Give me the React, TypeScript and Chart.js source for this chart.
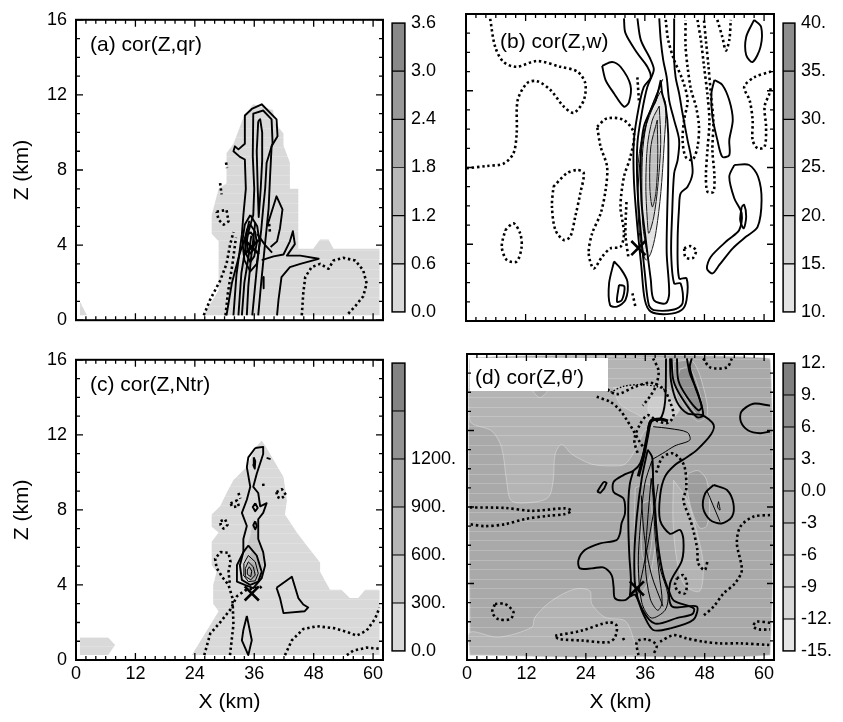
import { useEffect, useRef } from "react"
import { Chart, registerables } from "chart.js"

Chart.register(...registerables)
Chart.defaults.font.family = "'Liberation Sans', Arial, Helvetica, sans-serif"
Chart.defaults.color = "#000"

type Pt = [number, number]

// ---- axis ticks (km) ----
const xMajor = [0, 12, 24, 36, 48, 60]
const xMinor = [2, 4, 6, 8, 10, 14, 16, 18, 20, 22, 26, 28, 30, 32, 34, 38, 40, 42, 44, 46, 50, 52, 54, 56, 58]
const yMajor = [0, 4, 8, 12, 16]
const yMinor = [1, 2, 3, 5, 6, 7, 9, 10, 11, 13, 14, 15]

// ---- colour bar labels ----
const cbTicksA = ["0.0", "0.6", "1.2", "1.8", "2.4", "3.0", "3.6"]
const cbTicksB = ["10.", "15.", "20.", "25.", "30.", "35.", "40."]
const cbTicksC = ["0.0", "300.", "600.", "900.", "1200.", ""]
const cbTicksD = ["-15.", "-12.", "-9", "-6", "-3", "0.0", "3.", "6.", "9.", "12."]

const paletteA = ["#d9d9d9", "#c9c9c9", "#b9b9b9", "#a9a9a9", "#999999", "#898989"]
const paletteB = ["#e3e3e3", "#d1d1d1", "#c0c0c0", "#afafaf", "#9e9e9e", "#8d8d8d"]
const paletteC = ["#d9d9d9", "#c7c7c7", "#b5b5b5", "#a3a3a3", "#939393", "#838383"]
const paletteD = ["#e6e6e6", "#d9d9d9", "#cccccc", "#bfbfbf", "#b4b4b4", "#a9a9a9", "#9c9c9c", "#8f8f8f", "#7f7f7f"]

// ---- (a) cor(Z,qr) ----
const aBand0: Pt[] = [[25.7, 0.26], [61.3, 0.26], [61.3, 3.8], [52.0, 3.8], [51.0, 4.3], [49.3, 4.3], [47.9, 3.8], [44.9, 3.8], [44.9, 7.0], [43.2, 7.0], [43.2, 8.4], [41.9, 9.3], [41.9, 9.95], [40.2, 10.5], [39.8, 11.2], [35.8, 11.5], [33.8, 10.8], [31.8, 9.4], [30.4, 8.9], [30.4, 7.3], [28.8, 7.0], [27.4, 5.6], [27.4, 4.6], [28.8, 4.2], [28.8, 1.6]]
const aBand0Corner: Pt[] = [[0.8, 0.26], [2.2, 0.26], [0.8, 1.0]]
const aBand1: Pt[] = [[33.6, 3.3], [35.2, 3.9], [36.0, 3.2], [35.0, 2.5], [33.8, 2.7]]
const aOuter: Pt[] = [[31.8, 0.26], [32.4, 2.4], [33.5, 4.57], [33.8, 5.6], [34.3, 7.0], [34.1, 8.56], [33.1, 8.7], [31.8, 9.0], [32.1, 9.26], [32.8, 9.1], [34.1, 9.4], [34.1, 10.9], [35.5, 11.25], [37.5, 11.5], [40.5, 10.7], [40.7, 9.8], [39.5, 9.26], [39.2, 7.7], [38.9, 5.96], [38.5, 4.9], [38.0, 3.6], [37.4, 2.0], [36.8, 0.26]]
const aInner: Pt[] = [[32.8, 0.26], [33.4, 2.5], [34.6, 4.5], [35.8, 5.6], [36.0, 7.0], [35.7, 8.74], [35.8, 11.0], [37.8, 11.17], [39.5, 10.7], [39.7, 9.43], [38.5, 8.39], [38.2, 7.0], [37.8, 5.96], [37.4, 4.8], [36.6, 3.0], [35.6, 0.26]]
const aCore: Pt[] = [[36.8, 10.6], [36.5, 9.0], [36.7, 7.0], [36.9, 5.5], [37.3, 7.0], [37.6, 8.5], [37.6, 10.0], [37.2, 10.7], [36.8, 10.6]]
const aRing1: Pt[] = [[35.2, 5.6], [36.6, 5.0], [37.1, 4.1], [36.5, 3.0], [35.2, 2.6], [34.0, 3.2], [33.6, 4.2], [34.1, 5.1], [35.2, 5.6]]
const aRing2: Pt[] = [[35.2, 5.1], [36.2, 4.7], [36.5, 4.1], [36.0, 3.4], [35.2, 3.1], [34.4, 3.5], [34.1, 4.2], [34.5, 4.8], [35.2, 5.1]]
const aRing3: Pt[] = [[35.2, 4.7], [35.8, 4.5], [36.0, 4.1], [35.7, 3.7], [35.2, 3.55], [34.7, 3.8], [34.5, 4.2], [34.7, 4.55], [35.2, 4.7]]
const aStrand1: Pt[] = [[30.4, 0.26], [31.5, 2.0], [33.0, 3.5], [34.4, 4.6], [35.0, 5.3]]
const aStrand2: Pt[] = [[33.5, 0.26], [34.0, 2.0], [34.8, 3.3], [35.4, 4.5]]
const aStrand3: Pt[] = [[34.5, 0.26], [34.8, 1.8], [35.3, 3.2], [35.8, 4.3], [36.2, 5.2]]
const aStrand4: Pt[] = [[36.6, 4.6], [38.2, 4.0], [39.6, 3.6]]
const aTick: Pt[] = [[37.8, 2.3], [37.9, 1.7]]
const aLobe: Pt[] = [[38.6, 5.0], [40.5, 6.6], [41.7, 5.9], [41.2, 4.9], [40.6, 4.2], [39.3, 3.9]]
const aArm: Pt[] = [[37.5, 3.2], [39.9, 3.4], [41.9, 3.5], [43.2, 4.2], [43.8, 4.74], [44.2, 4.05], [42.6, 3.44], [45.3, 3.44], [49.0, 3.27], [45.3, 3.0], [43.2, 2.83], [41.5, 2.3], [40.9, 1.1], [40.6, 0.26]]
const aDot1: Pt[] = [[25.8, 0.26], [27.1, 1.1], [29.1, 2.1], [30.4, 3.0], [31.1, 4.0], [31.8, 4.7]]
const aDot2: Pt[] = [[30.2, 0.26], [30.7, 1.5], [31.6, 3.0], [32.3, 4.4]]
const aDot3: Pt[] = [[28.4, 5.78], [30.4, 5.87], [30.8, 5.26], [29.8, 5.09], [28.8, 5.35], [28.4, 5.78]]
const aDot4: Pt[] = [[29.1, 7.3], [29.4, 6.7]]
const aDot5: Pt[] = [[30.3, 8.4], [30.5, 8.1]]
const aDot6: Pt[] = [[45.6, 0.26], [45.9, 1.44], [46.3, 2.3], [47.6, 2.83], [49.3, 3.0], [51.0, 2.74], [52.0, 3.18], [54.0, 3.32], [56.4, 3.18], [58.0, 2.66], [58.7, 1.96], [58.0, 1.27], [56.4, 0.75], [54.7, 0.26]]
const aDot7: Pt[] = [[38.9, 5.4], [39.2, 4.6]]
const aCross: Pt = [35.5, 3.9]

// ---- (b) cor(Z,w) ----
const bBand0: Pt[] = [[39.2, 11.98], [40.2, 11.3], [39.9, 9.26], [39.2, 6.64], [38.2, 4.57], [37.2, 3.53], [36.2, 3.18], [35.5, 3.87], [34.8, 5.78], [34.5, 7.52], [35.2, 9.26], [36.8, 10.6], [38.5, 11.63]]
const bBand1: Pt[] = [[38.9, 11.2], [39.2, 9.26], [38.6, 7.0], [37.8, 5.43], [36.8, 4.57], [36.5, 5.26], [36.2, 7.0], [36.5, 9.08], [37.5, 10.47]]
const bBand2: Pt[] = [[38.5, 10.47], [38.6, 8.39], [38.2, 6.64], [37.5, 5.95], [37.0, 7.0], [37.2, 9.08]]
const bPlume1: Pt[] = [[31.8, 15.77], [32.1, 15.0], [34.5, 13.95], [36.5, 13.25], [37.2, 12.7], [35.8, 12.2], [34.8, 11.17], [33.8, 9.43], [33.8, 7.35], [34.5, 4.9], [35.3, 2.83], [36.0, 1.1], [37.2, 0.49], [40.5, 0.36], [43.4, 0.57], [44.4, 1.1], [44.4, 2.22], [42.9, 2.22], [42.6, 4.22], [42.9, 5.96], [43.2, 6.65], [44.6, 7.0], [45.6, 7.7], [45.3, 8.56], [44.6, 9.43], [43.6, 10.8], [42.9, 11.86], [42.2, 12.7], [41.9, 13.6], [41.9, 15.0], [41.9, 15.77]]
const bPlume2: Pt[] = [[34.5, 15.77], [35.2, 14.64], [37.2, 13.6], [37.8, 13.08], [36.5, 12.2], [35.5, 11.0], [34.5, 9.26], [34.5, 7.0], [35.2, 4.57], [36.0, 2.48], [36.8, 0.83], [37.8, 0.57], [41.9, 0.6], [43.6, 0.92], [43.2, 1.96], [41.9, 1.96], [41.3, 3.53], [41.5, 5.6], [41.9, 7.7], [42.6, 8.39], [42.9, 9.43], [41.9, 10.47], [40.9, 11.5], [40.4, 12.7], [39.7, 13.6], [39.2, 14.64], [38.9, 15.77]]
const bPlume3: Pt[] = [[39.2, 12.56], [38.2, 11.5], [37.2, 11.0], [35.8, 10.13], [35.2, 8.74], [35.3, 6.3], [36.2, 4.22], [37.2, 2.14], [37.8, 1.1], [40.2, 0.92], [40.9, 1.44], [40.4, 3.53], [40.5, 5.6], [40.7, 7.7], [40.7, 9.78], [40.2, 11.17], [39.5, 11.86], [39.2, 12.56]]
const bThin1: Pt[] = [[39.4, 12.4], [37.6, 11.3], [36.2, 10.2], [35.1, 8.5], [34.6, 6.5], [34.9, 4.6], [35.8, 3.2]]
const bThin2: Pt[] = [[39.6, 12.6], [38.0, 11.6], [36.6, 10.6], [35.6, 9.0], [35.4, 7.0], [35.6, 5.0], [36.4, 3.6]]
const bLoopNW: Pt[] = [[27.4, 13.3], [29.4, 13.5], [31.1, 13.25], [33.1, 12.3], [32.8, 11.4], [31.8, 11.17], [29.8, 11.86], [28.1, 12.56], [27.4, 13.3]]
const bLoopE: Pt[] = [[50.0, 12.56], [51.6, 12.3], [53.0, 11.5], [53.7, 10.47], [53.0, 9.43], [53.0, 8.65], [51.6, 8.56], [50.6, 9.43], [49.6, 10.65], [49.4, 11.86], [50.0, 12.56]]
const bLoopNE: Pt[] = [[58.0, 15.69], [59.4, 15.34], [59.3, 14.3], [57.7, 13.5], [56.4, 13.86], [56.4, 14.8], [58.0, 15.69]]
const bLoopSE: Pt[] = [[54.0, 8.13], [57.0, 8.13], [58.8, 7.52], [59.5, 6.3], [58.7, 4.9], [56.4, 4.4], [53.7, 3.79], [51.0, 2.92], [49.6, 2.48], [48.5, 2.74], [49.3, 3.35], [52.7, 4.22], [55.0, 4.74], [55.5, 5.6], [54.0, 6.4], [53.0, 7.52], [54.0, 8.13]]
const bLoopSEin: Pt[] = [[55.5, 5.96], [56.0, 6.05], [56.4, 5.44], [55.9, 4.83], [55.2, 5.26], [55.5, 5.96]]
const bLoopSW: Pt[] = [[29.8, 3.1], [31.1, 2.74], [32.5, 2.05], [32.1, 1.1], [30.4, 0.75], [29.0, 0.83], [28.8, 1.96], [29.8, 3.1]]
const bLoopSWin: Pt[] = [[30.8, 1.88], [31.9, 1.79], [31.4, 1.1], [30.4, 1.0], [30.8, 1.88]]
const bDotW: Pt[] = [[0.13, 7.96], [4.2, 8.08], [7.54, 8.2], [9.56, 8.74], [10.2, 9.78], [10.4, 11.5], [12.3, 12.4], [14.3, 12.5], [17.0, 12.04], [19.7, 11.17], [21.7, 10.85], [23.7, 11.5], [24.0, 12.4], [22.4, 13.0], [19.0, 13.25], [14.3, 13.55], [10.2, 13.25], [7.54, 13.5], [5.86, 14.3], [4.85, 15.77]]
const bDotSW: Pt[] = [[7.9, 4.74], [9.56, 5.09], [10.9, 4.57], [11.2, 3.87], [10.2, 3.1], [8.2, 3.18], [7.2, 3.87], [7.9, 4.74]]
const bDotMid: Pt[] = [[17.6, 7.0], [20.3, 7.7], [22.4, 7.87], [23.7, 7.7], [23.0, 6.65], [22.0, 5.44], [21.0, 4.4], [19.7, 4.22], [18.0, 4.74], [17.3, 5.96], [17.6, 7.0]]
const bDotPlumeW: Pt[] = [[26.4, 10.13], [28.4, 10.56], [31.8, 10.47], [33.8, 9.78], [33.1, 8.56], [31.8, 7.52], [31.1, 5.96], [31.8, 4.57], [31.1, 3.87], [29.1, 3.79], [27.4, 3.35], [25.7, 2.74], [24.7, 3.53], [25.4, 4.57], [27.1, 5.6], [28.1, 6.83], [28.4, 8.04], [27.1, 9.08], [26.4, 10.13]]
const bDotStrand: Pt[] = [[32.3, 6.2], [32.1, 4.5], [32.7, 3.3]]
const bDotTop: Pt[] = [[34.5, 12.7], [34.8, 11.5]]
const bDotE1: Pt[] = [[40.2, 15.69], [40.7, 14.64], [41.9, 13.6], [43.6, 12.56], [44.6, 11.5], [43.9, 10.47], [43.6, 9.43], [44.2, 8.56], [45.6, 8.39], [46.6, 9.08], [46.9, 10.13], [46.3, 11.17], [45.3, 12.04], [44.6, 13.25], [44.2, 14.3], [44.2, 15.69]]
const bDotE2: Pt[] = [[46.6, 15.69], [47.3, 14.6], [47.9, 13.3], [48.6, 11.8], [49.0, 10.4], [48.6, 8.9], [48.3, 7.6], [48.6, 6.74], [49.8, 6.74], [50.0, 7.6], [49.6, 8.9], [49.8, 10.4], [49.3, 11.8], [48.8, 13.3], [48.3, 14.6], [47.9, 15.69]]
const bDotNE: Pt[] = [[50.6, 15.69], [51.6, 14.8], [52.3, 14.1], [53.0, 14.64], [53.3, 15.69]]
const bDotFarE: Pt[] = [[61.4, 13.0], [58.0, 12.7], [56.0, 12.2], [57.1, 11.5], [57.7, 10.47], [57.7, 9.43], [58.7, 9.0], [60.1, 9.08], [60.4, 10.13], [60.1, 11.17], [61.1, 11.86], [61.4, 12.2]]
const bDotRing: Pt[] = [[43.9, 3.79], [45.3, 3.9], [46.3, 3.66], [45.6, 3.27], [44.2, 3.32], [43.9, 3.79]]
const bDotTiny: Pt[] = [[33.5, 1.44], [34.1, 0.75]]
const bCross: Pt = [34.7, 3.8]

// ---- (c) cor(Z,Ntr) ----
const cBand0: Pt[] = [[23.4, 0.26], [61.3, 0.26], [61.3, 3.75], [58.4, 3.75], [57.0, 3.3], [55.3, 3.3], [53.6, 3.75], [51.3, 3.75], [49.3, 4.7], [49.3, 5.2], [46.6, 6.1], [44.6, 6.8], [42.2, 7.75], [42.6, 8.5], [41.9, 9.75], [38.5, 11.3], [37.5, 11.7], [36.2, 11.3], [34.5, 10.3], [31.8, 9.6], [30.4, 8.9], [29.1, 8.2], [27.4, 7.75], [27.4, 7.1], [28.8, 6.8], [27.4, 6.3], [27.4, 5.05], [28.4, 4.7], [27.7, 4.0], [27.7, 3.0], [28.8, 2.6]]
const cBand0Left: Pt[] = [[0.8, 1.2], [6.5, 1.2], [7.9, 0.8], [6.5, 0.26], [0.8, 0.26]]
const cBand1: Pt[] = [[35.8, 7.5], [36.8, 6.8], [37.8, 5.4], [37.8, 4.5], [36.8, 4.0], [34.8, 4.0], [33.8, 4.7], [34.1, 5.75], [35.2, 6.6]]
const cBand2: Pt[] = [[35.6, 5.9], [36.6, 5.5], [37.2, 4.8], [36.6, 4.2], [35.2, 4.1], [34.5, 4.6], [34.8, 5.3]]
const cBand3: Pt[] = [[35.5, 5.2], [36.3, 4.9], [36.3, 4.4], [35.3, 4.3], [35.0, 4.7]]
const cTall: Pt[] = [[36.2, 11.3], [37.8, 11.36], [37.8, 10.98], [36.5, 9.93], [35.8, 9.23], [36.8, 8.9], [37.2, 8.19], [38.5, 8.36], [37.8, 7.84], [36.8, 7.5], [36.8, 6.45], [37.8, 5.75], [38.2, 5.05], [37.5, 4.36], [35.8, 3.83], [34.1, 4.0], [32.5, 4.18], [32.5, 5.05], [33.8, 5.75], [33.8, 6.45], [34.5, 7.14], [33.5, 7.84], [34.5, 8.54], [35.2, 9.23], [34.5, 10.28], [34.8, 10.8], [36.2, 11.3]]
const cDiam1: Pt[] = [[36.2, 8.36], [36.7, 8.1], [36.2, 7.93], [35.7, 8.15], [36.2, 8.36]]
const cDiam2: Pt[] = [[36.2, 7.4], [36.5, 7.14], [36.2, 6.97], [35.8, 7.18], [36.2, 7.4]]
const cSpot: Pt[] = [[35.9, 10.8], [36.2, 10.6], [36.1, 10.2], [35.8, 10.4], [35.9, 10.8]]
const cRing1: Pt[] = [[34.8, 6.1], [36.5, 5.57], [37.5, 4.7], [36.8, 4.18], [35.2, 4.0], [33.5, 4.27], [33.1, 5.05], [33.8, 5.75], [34.8, 6.1]]
const cRing2: Pt[] = [[34.8, 5.57], [36.2, 5.23], [36.8, 4.62], [36.2, 4.22], [34.8, 4.18], [33.8, 4.53], [33.9, 5.14], [34.8, 5.57]]
const cRing3: Pt[] = [[34.8, 5.23], [35.8, 4.97], [36.2, 4.53], [35.3, 4.27], [34.3, 4.44], [34.2, 4.88], [34.8, 5.23]]
const cRing4: Pt[] = [[35.0, 4.97], [35.5, 4.74], [35.3, 4.44], [34.6, 4.57], [34.6, 4.8], [35.0, 4.97]]
const cTick: Pt[] = [[38.5, 10.77], [39.3, 10.71]]
const cLoopE: Pt[] = [[40.5, 3.85], [43.6, 4.44], [44.9, 3.3], [45.9, 2.96], [46.9, 2.8], [46.2, 2.6], [41.9, 2.5], [41.2, 3.3], [40.5, 3.85]]
const cNeedle: Pt[] = [[34.5, 2.35], [35.5, 1.05], [34.8, 0.26], [33.5, 1.05], [33.8, 1.6], [34.5, 2.35]]
const cDot1: Pt[] = [[25.9, 0.26], [27.1, 1.4], [29.1, 2.0], [31.2, 2.7], [32.5, 3.4], [34.1, 3.7], [37.2, 3.9], [37.8, 3.75]]
const cDot2: Pt[] = [[31.1, 0.26], [31.8, 1.9], [31.6, 3.3], [30.8, 4.0], [29.6, 4.4], [28.4, 4.9], [28.1, 5.4], [29.2, 5.75], [30.8, 5.71], [31.2, 5.23], [30.8, 4.7], [31.1, 4.0]]
const cDotR1: Pt[] = [[29.2, 7.4], [30.1, 7.5], [30.6, 7.2], [29.8, 7.0], [29.2, 7.2], [29.2, 7.4]]
const cDotR2: Pt[] = [[31.2, 8.35], [32.5, 8.5], [32.9, 8.2], [31.6, 8.15], [31.2, 8.35]]
const cDotR3: Pt[] = [[32.8, 8.9], [33.2, 8.6]]
const cDotR4: Pt[] = [[37.8, 9.4], [37.9, 9.2]]
const cDotR5: Pt[] = [[40.5, 8.95], [41.6, 9.1], [42.4, 8.8], [41.4, 8.6], [40.6, 8.7], [40.5, 8.95]]
const cDot3: Pt[] = [[42.2, 0.26], [43.6, 1.05], [45.9, 1.65], [48.6, 1.8], [52.0, 1.7], [54.7, 1.5], [56.7, 1.3], [58.7, 1.57], [60.4, 2.2], [61.3, 2.8]]
const cDot4: Pt[] = [[54.7, 0.26], [56.0, 0.5], [58.7, 0.66], [61.3, 0.6]]
const cCross: Pt = [35.5, 3.55]

// ---- (d) cor(Z,theta') ----
const dBase: Pt[] = [[0.6, 0.26], [61.2, 0.26], [61.2, 15.77], [0.6, 15.77]]
const dLightTop: Pt[] = [[0.6, 15.77], [0.6, 12.5], [5.0, 11.98], [7.0, 11.11], [8.0, 9.37], [9.0, 8.32], [13.1, 8.24], [16.4, 8.5], [17.4, 9.37], [17.8, 10.76], [19.1, 11.28], [21.2, 10.76], [25.2, 10.24], [29.2, 10.15], [31.9, 10.24], [34.0, 11.0], [36.0, 12.0], [39.0, 12.3], [41.5, 12.6], [42.5, 13.5], [41.3, 15.0], [40.8, 15.77]]
const dNotch: Pt[] = [[13.2, 14.07], [16.2, 14.07], [14.7, 13.72]]
const dLighterTop: Pt[] = [[29.6, 14.25], [33.6, 14.3], [38.3, 14.4], [41.7, 13.9], [43.0, 13.1], [40.3, 12.5], [36.97, 12.5], [34.3, 12.86], [30.9, 13.38]]
const dLightestTop: Pt[] = [[36.97, 13.72], [40.3, 13.72], [42.7, 13.2], [41.7, 12.68], [38.3, 12.6], [36.6, 13.0]]
const dLightLow: Pt[] = [[0.6, 0.26], [0.6, 1.45], [6.3, 1.19], [13.1, 1.71], [13.7, 2.23], [17.1, 3.1], [21.8, 3.71], [24.8, 3.62], [25.2, 2.93], [27.9, 2.23], [31.9, 2.05], [33.5, 1.2], [34.0, 0.26]]
const dLightEast: Pt[] = [[41.7, 9.4], [44.4, 8.4], [46.5, 6.6], [47.7, 5.0], [47.0, 3.6], [44.0, 3.9], [42.4, 5.2], [41.6, 7.3]]
const dDarkNE: Pt[] = [[41.8, 15.6], [45.6, 15.6], [48.0, 14.0], [48.5, 12.8], [46.5, 12.5], [43.5, 13.5], [41.7, 14.6]]
const dDarkerNE: Pt[] = [[43.0, 15.2], [44.8, 15.3], [46.4, 14.5], [47.4, 13.3], [46.8, 12.8], [45.4, 13.2], [43.6, 14.0], [42.6, 14.7]]
const dDarkEast: Pt[] = [[44.6, 9.75], [46.7, 9.9], [48.4, 9.4], [49.0, 8.0], [48.4, 7.0], [47.0, 6.9], [45.4, 7.8], [44.5, 8.9]]
const dDarkPlume: Pt[] = [[34.0, 9.0], [36.5, 9.2], [38.5, 8.5], [38.0, 6.0], [36.7, 4.2], [35.0, 3.5], [34.2, 5.0], [33.8, 7.0]]
const dDarkerPlume: Pt[] = [[35.5, 8.2], [37.0, 8.3], [37.4, 6.5], [36.4, 5.0], [35.4, 5.5], [35.2, 7.0]]
const dOuter: Pt[] = [[41.0, 15.77], [41.2, 14.6], [42.4, 13.5], [44.5, 12.9], [47.5, 12.8], [49.8, 12.3], [49.3, 11.8], [46.5, 11.0], [44.4, 10.6], [42.0, 10.2], [40.0, 9.6], [39.0, 8.6], [39.0, 7.3], [41.0, 6.6], [43.0, 6.8], [43.7, 6.3], [43.4, 5.2], [41.0, 4.0], [41.4, 2.8], [46.4, 2.8], [45.7, 2.1], [41.0, 1.65], [37.6, 1.57], [35.6, 2.4], [34.0, 3.4], [32.9, 3.31], [31.9, 3.13], [29.9, 3.22], [29.6, 3.83], [29.2, 4.44], [27.5, 4.84], [25.2, 4.79], [22.8, 4.79], [22.5, 5.22], [23.8, 5.75], [26.9, 6.1], [30.2, 6.27], [30.9, 6.62], [31.2, 7.14], [31.9, 7.66], [31.6, 8.45], [29.6, 8.79], [29.6, 9.31], [31.6, 9.67], [33.6, 9.9], [35.0, 10.3], [36.3, 11.5], [37.0, 12.5], [39.0, 12.6], [40.0, 13.5], [40.2, 15.77]]
const dThickTop: Pt[] = [[34.6, 9.6], [35.6, 10.6], [36.5, 11.8], [37.2, 12.5], [39.0, 12.6], [40.6, 12.5]]
const dLobeInner: Pt[] = [[32.9, 3.31], [33.1, 4.18], [32.8, 5.4], [32.6, 6.79], [32.6, 8.36], [32.9, 9.23], [33.6, 9.9]]
const dStrand2: Pt[] = [[36.5, 11.0], [35.3, 9.5], [34.3, 7.5], [33.8, 5.5], [34.0, 3.8], [35.5, 2.6], [38.0, 1.9], [42.5, 2.2], [45.5, 2.4], [45.8, 2.7], [41.8, 3.1], [40.8, 3.6], [39.6, 4.5], [38.6, 6.0], [38.0, 7.8], [37.6, 9.2], [37.4, 10.6], [36.5, 11.0]]
const dStrand3: Pt[] = [[37.3, 10.4], [35.9, 9.2], [35.0, 7.0], [34.6, 5.0], [35.3, 3.0], [37.2, 2.2], [40.0, 2.6], [40.6, 3.4], [39.0, 4.8], [38.2, 6.6], [37.8, 8.6], [37.3, 10.4]]
const dStrand4: Pt[] = [[37.2, 9.5], [36.4, 7.0], [36.0, 5.0], [37.0, 3.2], [38.5, 2.6], [39.4, 3.0], [38.8, 4.5], [38.0, 6.5], [37.6, 8.5], [37.2, 9.5]]
const dCross1: Pt[] = [[38.6, 9.2], [37.2, 7.0], [35.6, 4.8], [34.4, 3.4]]
const dCross2: Pt[] = [[35.2, 8.6], [35.8, 6.5], [37.2, 4.5], [39.6, 2.8]]
const dTopLoop1: Pt[] = [[41.3, 15.77], [41.7, 14.6], [43.4, 13.7], [46.4, 12.7], [47.7, 12.8], [46.7, 13.9], [45.0, 15.0], [44.4, 15.77]]
const dTopLoop2: Pt[] = [[42.4, 15.77], [42.7, 14.6], [44.4, 13.76], [46.7, 13.06], [47.4, 13.24], [46.1, 14.28], [45.0, 15.32], [45.4, 15.77]]
const dTongue: Pt[] = [[37.6, 12.2], [41.0, 12.1], [44.5, 11.9], [45.0, 11.5], [42.0, 11.2], [39.5, 10.8], [37.5, 10.5]]
const dDiamond: Pt[] = [[26.3, 8.8], [27.6, 9.3], [28.2, 9.25], [27.0, 8.75], [26.3, 8.8]]
const dCircle: Pt[] = [[49.8, 9.15], [52.5, 8.89], [53.8, 8.19], [53.5, 7.49], [51.4, 7.14], [49.1, 7.32], [47.7, 7.93], [48.1, 8.71], [49.8, 9.15]]
const dCircleLine: Pt[] = [[48.4, 8.89], [51.1, 7.23]]
const dCircleTiny: Pt[] = [[50.8, 8.28], [51.1, 7.84], [50.6, 8.0], [50.8, 8.28]]
const dEdgeC: Pt[] = [[61.2, 13.3], [57.8, 13.4], [55.4, 12.98], [55.3, 12.46], [56.8, 12.0], [59.2, 11.86], [61.2, 11.95]]
const dDotW: Pt[] = [[0.6, 7.98], [7.7, 7.95], [13.1, 7.8], [19.8, 7.93], [21.1, 7.8], [19.8, 7.63], [16.4, 7.54], [11.7, 7.37], [7.7, 7.1], [3.6, 7.0], [0.6, 7.1]]
const dDotRing: Pt[] = [[5.66, 2.93], [7.7, 2.93], [9.4, 2.49], [8.7, 2.14], [6.3, 2.14], [5.1, 2.49], [5.66, 2.93]]
const dDotLow: Pt[] = [[17.8, 1.27], [23.2, 1.54], [28.6, 1.97], [30.2, 1.8], [29.9, 1.19], [28.6, 0.93], [23.2, 1.02], [18.5, 1.1], [17.8, 1.27]]
const dDotBlob: Pt[] = [[31.5, 1.15], [31.8, 1.0]]
const dDotBottom1: Pt[] = [[34.6, 0.26], [34.3, 0.96], [36.3, 1.08], [38.3, 0.78], [37.6, 0.26]]
const dDotBottom2: Pt[] = [[39.0, 0.96], [41.7, 1.3], [44.4, 1.13], [47.7, 0.96], [51.1, 0.87], [55.2, 0.87], [61.2, 0.78]]
const dDotSE: Pt[] = [[61.2, 1.95], [58.5, 2.0], [57.8, 1.75], [59.0, 1.6], [61.2, 1.6]]
const dDotE: Pt[] = [[61.2, 7.58], [57.8, 7.49], [55.2, 6.97], [54.5, 6.1], [55.5, 4.7], [54.1, 4.0], [51.8, 3.48], [49.8, 2.79], [47.7, 2.3]]
const dDotRingE: Pt[] = [[42.4, 4.27], [43.7, 4.44], [44.4, 4.0], [44.0, 3.48], [42.7, 3.57], [42.0, 3.92], [42.4, 4.27]]
const dDotPlumeE: Pt[] = [[38.2, 9.8], [39.5, 10.6], [41.7, 10.8], [43.8, 10.2], [44.3, 9.0], [43.7, 8.36], [45.0, 7.4], [45.7, 6.79], [46.5, 5.8], [46.7, 5.05], [48.0, 4.7], [48.6, 5.2]]
const dDotNW1: Pt[] = [[26.2, 13.76], [28.9, 13.5], [30.9, 13.07], [32.3, 12.54], [33.6, 12.0], [34.9, 11.4], [36.0, 11.0]]
const dDotNW2: Pt[] = [[27.5, 14.3], [30.2, 13.9], [33.6, 14.25], [36.9, 14.5], [39.6, 14.2], [41.0, 13.5], [41.7, 12.8], [40.6, 12.4], [38.4, 12.5], [36.5, 12.8], [34.9, 12.3], [33.8, 11.5], [34.6, 10.7]]
const dDotTop: Pt[] = [[37.6, 15.77], [38.7, 15.1], [38.1, 14.3], [37.0, 13.8], [35.5, 13.3]]
const dDotNE: Pt[] = [[47.7, 15.77], [49.1, 15.3], [52.5, 15.3], [53.5, 15.77]]
const dFineDot: Pt[] = [[29.0, 14.0], [31.5, 14.3], [34.9, 14.4], [38.3, 14.3], [40.3, 14.1]]
const dCross: Pt = [34.3, 3.74]

type Fill = { pts: Pt[]; band: number }

interface PanelProps {
  box: [number, number, number, number]
  pad: { left: number; top: number; right: number; bottom: number }
  showX: boolean
  showY: boolean
  label: string
  labelAt: [number, number]
  labelBox?: boolean
  palette: string[]
  fills: Fill[]
  fillEdge?: string
  thick?: Pt[][]
  solid: Pt[][]
  thin?: Pt[][]
  dotted: Pt[][]
  fineDotted?: Pt[][]
  cross: Pt
  tension: number
}

function Panel(p: PanelProps) {
  const ref = useRef<HTMLCanvasElement>(null)

  useEffect(() => {
    if (!ref.current) return
    const line = (pts: Pt[], extra: object) => ({
      data: pts.map(([x, y]) => ({ x, y })),
      showLine: true,
      pointRadius: 0,
      fill: false,
      tension: p.tension,
      borderColor: "#000",
      borderJoinStyle: "round",
      ...extra,
    })

    const datasets: any[] = [
      {
        data: [{ x: p.cross[0], y: p.cross[1] }],
        showLine: false,
        pointStyle: "crossRot",
        pointRadius: 10,
        pointBorderWidth: 2.6,
        pointBorderColor: "#000",
        order: 0,
      },
      ...(p.thick ?? []).map((pts) => line(pts, { borderWidth: 3.2, order: 1 })),
      ...p.solid.map((pts) => line(pts, { borderWidth: 1.9, order: 1 })),
      ...(p.thin ?? []).map((pts) => line(pts, { borderWidth: 1, order: 1 })),
      ...p.dotted.map((pts) => line(pts, { borderWidth: 2.6, borderDash: [2.4, 2.8], order: 1 })),
      ...(p.fineDotted ?? []).map((pts) => line(pts, { borderWidth: 1.4, borderDash: [1.6, 1.8], order: 1 })),
      ...p.fills.map((f, i) =>
        line([...f.pts, f.pts[0]], {
          fill: "shape",
          backgroundColor: p.palette[f.band],
          borderColor: p.fillEdge ?? "rgba(0,0,0,0)",
          borderWidth: 0.9,
          order: 100 - i,
          stripeAfter: i === p.fills.length - 1,
        })
      ),
    ]

    // faint horizontal raster lines of the original shading
    const stripes = {
      id: "stripes",
      afterDatasetDraw(chart: any, args: any) {
        if (!chart.data.datasets[args.index].stripeAfter) return
        const { ctx, chartArea: a, scales } = chart
        ctx.save()
        ctx.beginPath()
        ctx.rect(a.left, a.top, a.right - a.left, a.bottom - a.top)
        ctx.clip()
        ctx.strokeStyle = "rgba(255,255,255,0.2)"
        ctx.lineWidth = 1
        for (let z = 0.75; z < 16; z += 0.5) {
          const py = Math.round(scales.y.getPixelForValue(z)) + 0.5
          ctx.beginPath()
          ctx.moveTo(a.left, py)
          ctx.lineTo(a.right, py)
          ctx.stroke()
        }
        ctx.restore()
      },
    }

    const deco = {
      id: "deco",
      afterDatasetsDraw(chart: any) {
        const { ctx, chartArea: a } = chart
        ctx.save()
        if (p.labelBox) {
          ctx.fillStyle = "#fff"
          ctx.fillRect(a.left + 3, a.top + 4, 138, 33)
        }
        ctx.fillStyle = "#000"
        ctx.font = "21px 'Liberation Sans', Arial, sans-serif"
        ctx.textBaseline = "middle"
        ctx.fillText(p.label, a.left + p.labelAt[0], a.top + p.labelAt[1])
        ctx.restore()
      },
      afterDraw(chart: any) {
        const { ctx, chartArea: a, scales } = chart
        const x = scales.x
        const y = scales.y
        ctx.save()
        ctx.strokeStyle = "#000"
        ctx.lineWidth = 1.3
        ctx.beginPath()
        const tx = (v: number, len: number) => {
          const px = x.getPixelForValue(v)
          ctx.moveTo(px, a.bottom)
          ctx.lineTo(px, a.bottom - len)
          ctx.moveTo(px, a.top)
          ctx.lineTo(px, a.top + len)
        }
        const ty = (v: number, len: number) => {
          const py = y.getPixelForValue(v)
          ctx.moveTo(a.left, py)
          ctx.lineTo(a.left + len, py)
          ctx.moveTo(a.right, py)
          ctx.lineTo(a.right - len, py)
        }
        xMajor.forEach((v) => tx(v, 7))
        xMinor.forEach((v) => tx(v, 4))
        yMajor.forEach((v) => ty(v, 7))
        yMinor.forEach((v) => ty(v, 4))
        ctx.stroke()
        ctx.lineWidth = 2
        ctx.strokeRect(a.left, a.top, a.right - a.left, a.bottom - a.top)
        ctx.restore()
      },
    }

    const chart = new Chart(ref.current, {
      type: "scatter",
      data: { datasets },
      options: {
        animation: false,
        responsive: false,
        events: [],
        layout: { padding: p.pad, autoPadding: false },
        plugins: { legend: { display: false }, tooltip: { enabled: false } },
        scales: {
          x: {
            type: "linear",
            min: 0,
            max: 62,
            display: p.showX,
            afterFit: (s: any) => {
              s.height = p.showX ? 62 : 0
            },
            grid: { display: false, drawTicks: false },
            border: { display: false },
            ticks: { stepSize: 12, includeBounds: false, padding: 3, maxRotation: 0, autoSkip: false, font: { size: 18 } },
            title: { display: true, text: "X (km)", font: { size: 21 }, padding: { top: 0, bottom: 7 } },
          },
          y: {
            type: "linear",
            min: 0,
            max: 16,
            display: p.showY,
            afterFit: (s: any) => {
              s.width = p.showY ? 76 : 0
            },
            grid: { display: false, drawTicks: false },
            border: { display: false },
            ticks: { stepSize: 4, includeBounds: false, padding: 9, autoSkip: false, font: { size: 18 } },
            title: { display: true, text: "Z (km)", font: { size: 21 }, padding: { top: 10, bottom: 0 } },
          },
        },
      } as any,
      plugins: [stripes, deco],
    })

    return () => {
      chart.destroy()
    }
  }, [])

  const [left, top, width, height] = p.box
  return <canvas ref={ref} width={width} height={height} style={{ position: "absolute", left, top, width, height }} />
}

interface BarProps {
  box: [number, number, number, number]
  barTop: number
  barBottom: number
  barWidth: number
  palette: string[]
  ticks: string[]
}

function ColorBar({ box, barTop, barBottom, barWidth, palette, ticks }: BarProps) {
  const ref = useRef<HTMLCanvasElement>(null)

  useEffect(() => {
    if (!ref.current) return
    const chart = new Chart(ref.current, {
      type: "bar",
      data: {
        labels: [""],
        datasets: palette.map((c) => ({
          data: [1],
          backgroundColor: c,
          borderColor: "#000",
          borderWidth: 0.9,
          borderSkipped: false,
          barPercentage: 1,
          categoryPercentage: 1,
        })),
      },
      options: {
        animation: false,
        responsive: false,
        events: [],
        layout: { padding: { left: 7, top: barTop, bottom: barBottom, right: 0 }, autoPadding: false },
        plugins: { legend: { display: false }, tooltip: { enabled: false } },
        scales: {
          x: { display: false, stacked: true },
          y: {
            stacked: true,
            position: "right",
            min: 0,
            max: palette.length,
            afterFit: (s: any) => {
              s.width = box[2] - 7 - barWidth
            },
            grid: { display: false, drawTicks: false },
            border: { display: false },
            ticks: {
              stepSize: 1,
              autoSkip: false,
              padding: 6,
              font: { size: 18 },
              callback: (v: any) => ticks[v] ?? "",
            },
          },
        },
      } as any,
      plugins: [
        {
          id: "cbFrame",
          afterDraw(c: any) {
            const { ctx, chartArea: a } = c
            ctx.save()
            ctx.strokeStyle = "#000"
            ctx.lineWidth = 1.3
            ctx.strokeRect(a.left, a.top, a.right - a.left, a.bottom - a.top)
            ctx.restore()
          },
        },
      ],
    })
    return () => {
      chart.destroy()
    }
  }, [])

  const [left, top, width, height] = box
  return <canvas ref={ref} width={width} height={height} style={{ position: "absolute", left, top, width, height }} />
}

export default function App() {
  return (
    <div style={{ position: "absolute", left: 0, top: 0, width: 843, height: 722, background: "#fff" }}>
      <Panel
        box={[0, 0, 390, 340]}
        pad={{ left: 0, top: 14, right: 7, bottom: 19 }}
        showX={false}
        showY={true}
        label="(a) cor(Z,qr)"
        labelAt={[14, 25]}
        palette={paletteA}
        fills={[
          { pts: aBand0, band: 0 },
          { pts: aBand0Corner, band: 0 },
          { pts: aBand1, band: 1 },
        ]}
        solid={[aOuter, aInner, aCore, aRing1, aRing2, aRing3, aStrand1, aStrand2, aStrand3, aStrand4, aTick, aLobe, aArm]}
        dotted={[aDot1, aDot2, aDot3, aDot4, aDot5, aDot6, aDot7]}
        cross={aCross}
        tension={0}
      />
      <Panel
        box={[445, 0, 340, 340]}
        pad={{ left: 21, top: 14, right: 11, bottom: 19 }}
        showX={false}
        showY={false}
        label="(b) cor(Z,w)"
        labelAt={[34, 28]}
        palette={paletteB}
        fills={[
          { pts: bBand0, band: 0 },
          { pts: bBand1, band: 1 },
          { pts: bBand2, band: 2 },
        ]}
        fillEdge="#000"
        solid={[bPlume1, bPlume2, bPlume3, bLoopNW, bLoopE, bLoopNE, bLoopSE, bLoopSEin, bLoopSW, bLoopSWin]}
        thin={[bThin1, bThin2]}
        dotted={[bDotW, bDotSW, bDotMid, bDotPlumeW, bDotStrand, bDotTop, bDotE1, bDotE2, bDotNE, bDotFarE, bDotRing, bDotTiny]}
        cross={bCross}
        tension={0.3}
      />
      <Panel
        box={[0, 340, 390, 382]}
        pad={{ left: 0, top: 14, right: 7, bottom: 0 }}
        showX={true}
        showY={true}
        label="(c) cor(Z,Ntr)"
        labelAt={[14, 25]}
        palette={paletteC}
        fills={[
          { pts: cBand0, band: 0 },
          { pts: cBand0Left, band: 0 },
          { pts: cBand1, band: 1 },
          { pts: cBand2, band: 2 },
          { pts: cBand3, band: 3 },
        ]}
        solid={[cTall, cDiam1, cDiam2, cSpot, cRing1, cTick, cLoopE, cNeedle]}
        thin={[cRing2, cRing3, cRing4]}
        dotted={[cDot1, cDot2, cDotR1, cDotR2, cDotR3, cDotR4, cDotR5, cDot3, cDot4]}
        cross={cCross}
        tension={0}
      />
      <Panel
        box={[445, 340, 340, 382]}
        pad={{ left: 22, top: 14, right: 11, bottom: 0 }}
        showX={true}
        showY={false}
        label="(d) cor(Z,θ′)"
        labelAt={[8, 24]}
        labelBox={true}
        palette={paletteD}
        fills={[
          { pts: dBase, band: 5 },
          { pts: dLightTop, band: 4 },
          { pts: dNotch, band: 5 },
          { pts: dLightLow, band: 4 },
          { pts: dLightEast, band: 4 },
          { pts: dLighterTop, band: 3 },
          { pts: dLightestTop, band: 2 },
          { pts: dDarkNE, band: 6 },
          { pts: dDarkerNE, band: 7 },
          { pts: dDarkEast, band: 6 },
          { pts: dDarkPlume, band: 6 },
          { pts: dDarkerPlume, band: 7 },
        ]}
        fillEdge="rgba(215,215,215,0.7)"
        thick={[dThickTop]}
        solid={[dOuter, dLobeInner, dStrand2, dTopLoop1, dTopLoop2, dDiamond, dCircle, dEdgeC]}
        thin={[dStrand3, dStrand4, dCross1, dCross2, dTongue, dCircleLine, dCircleTiny]}
        dotted={[dDotW, dDotRing, dDotLow, dDotBlob, dDotBottom1, dDotBottom2, dDotSE, dDotE, dDotRingE, dDotPlumeE, dDotNW1, dDotNW2, dDotTop, dDotNE]}
        fineDotted={[dFineDot]}
        cross={dCross}
        tension={0.3}
      />
      <ColorBar box={[385, 0, 70, 340]} barTop={23} barBottom={28} barWidth={13} palette={paletteA} ticks={cbTicksA} />
      <ColorBar box={[776, 0, 67, 340]} barTop={23} barBottom={28} barWidth={12} palette={paletteB} ticks={cbTicksB} />
      <ColorBar box={[385, 340, 80, 382]} barTop={23} barBottom={71} barWidth={13} palette={paletteC} ticks={cbTicksC} />
      <ColorBar box={[776, 340, 67, 382]} barTop={23} barBottom={71} barWidth={12} palette={paletteD} ticks={cbTicksD} />
    </div>
  )
}
